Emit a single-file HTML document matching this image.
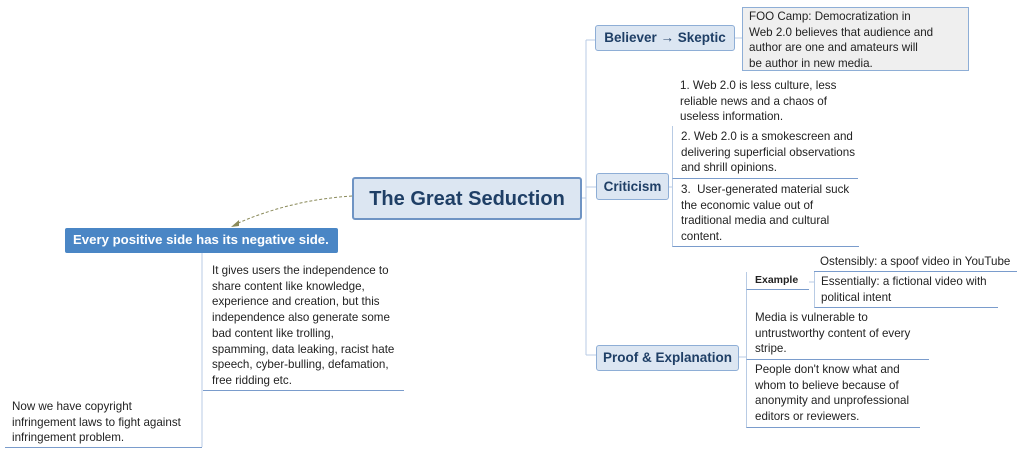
<!DOCTYPE html>
<html><head><meta charset="utf-8"><style>
body{margin:0;width:1024px;height:454px;background:#fff;position:relative;overflow:hidden;font-family:"Liberation Sans",sans-serif;color:#222}
.a{position:absolute;box-sizing:border-box}
.t{font-size:11.6px;line-height:15.7px;color:#222;white-space:nowrap}
.b{background:#dce6f2;border:1.5px solid #8eaed6;border-radius:3px;color:#1f3f66;font-weight:bold;text-align:center;white-space:nowrap}
.u{border-bottom:1.5px solid #7a9ccc}
.l{border-left:1px solid #b8cbe4}
</style></head><body>
<svg class="a" style="left:0;top:0" width="1024" height="454">
<path d="M586 40 V355 M586 40 H596 M586 187 H596 M586 355 H596 M582 198 H586" stroke="#b8cbe4" fill="none"/>
<path d="M735 38 H742 M669 187 H672 M739 357 H746 M809 282 H814" stroke="#b8cbe4" fill="none"/>
<path d="M352 196 Q290 200 236 224" stroke="#8a8a5a" stroke-dasharray="3,2" fill="none"/>
<path d="M231 227 L239 220 L239 226 Z" fill="#8a8a5a"/>
<path d="M202 252 V447" stroke="#b8cbe4"/>
</svg>
<div class="a b" style="left:352px;top:177px;width:230px;height:43px;font-size:20px;line-height:40px;border-color:#6f94c4;border-width:2px">The Great Seduction</div>
<div class="a b" style="left:595px;top:25px;width:140px;height:26px;font-size:13.5px;line-height:24px">Believer → Skeptic</div>
<div class="a t" style="left:742px;top:7px;width:227px;height:64px;background:#efefef;border:1.5px solid #8eaed6;padding:1px 6px 0;">FOO Camp: Democratization in<br>Web 2.0 believes that audience and<br>author are one and amateurs will<br>be author in new media.</div>
<div class="a b" style="left:596px;top:173px;width:73px;height:27px;font-size:13.5px;line-height:25px">Criticism</div>
<div class="a t" style="left:672px;top:78px;width:190px;padding-left:8px;">1. Web 2.0 is less culture, less<br>reliable news and a chaos of<br>useless information.</div>
<div class="a t u l" style="left:672px;top:126px;width:186px;height:53px;padding:3px 0 0 8px">2. Web 2.0 is a smokescreen and<br>delivering superficial observations<br>and shrill opinions.</div>
<div class="a t u l" style="left:672px;top:179px;width:187px;height:68px;padding:3px 0 0 8px;">3.&nbsp; User-generated material suck<br>the economic value out of<br>traditional media and cultural<br>content.</div>
<div class="a b" style="left:596px;top:345px;width:143px;height:26px;font-size:13.5px;line-height:24px">Proof &amp; Explanation</div>
<div class="a t u l" style="left:746px;top:272px;width:63px;height:18px;padding-left:8px;font-weight:bold;font-size:10.5px;line-height:16px">Example</div>
<div class="a t u" style="left:814px;top:254px;width:203px;height:18px;padding-left:6px;line-height:15px">Ostensibly: a spoof video in YouTube</div>
<div class="a t u l" style="left:814px;top:272px;width:184px;height:36px;padding:2px 0 0 6px;line-height:15.5px">Essentially: a fictional video with<br>political intent</div>
<div class="a t u l" style="left:746px;top:290px;width:183px;height:70px;padding:20px 0 0 8px">Media is vulnerable to<br>untrustworthy content of every<br>stripe.</div>
<div class="a t u l" style="left:746px;top:360px;width:174px;height:68px;padding:2px 0 0 8px">People don't know what and<br>whom to believe because of<br>anonymity and unprofessional<br>editors or reviewers.</div>
<div class="a" style="left:65px;top:228px;width:273px;height:25px;background:#4a86c5;color:#fff;font-weight:bold;font-size:13.2px;line-height:24px;border-radius:2px;padding-left:8px;white-space:nowrap">Every positive side has its negative side.</div>
<div class="a t u" style="left:203px;top:263px;width:201px;height:128px;padding-left:9px">It gives users the independence to<br>share content like knowledge,<br>experience and creation, but this<br>independence also generate some<br>bad content like trolling,<br>spamming, data leaking, racist hate<br>speech, cyber-bulling, defamation,<br>free ridding etc.</div>
<div class="a t u" style="left:5px;top:399px;width:197px;height:49px;padding-left:7px">Now we have copyright<br>infringement laws to fight against<br>infringement problem.</div>
</body></html>
